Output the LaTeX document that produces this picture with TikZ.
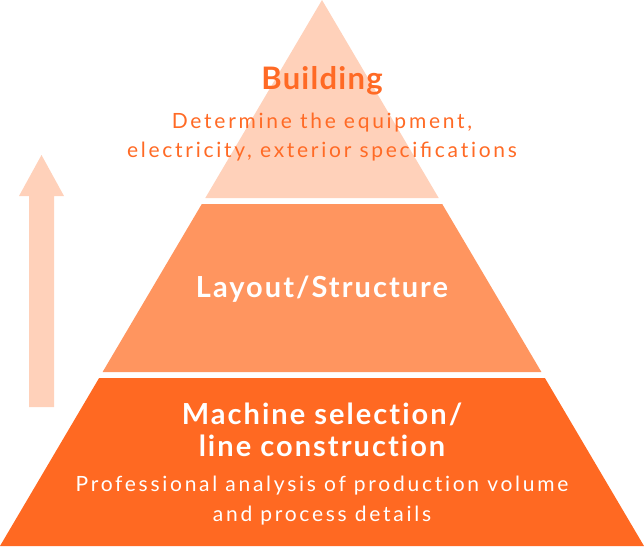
\documentclass[tikz,border=0pt]{standalone}
\usepackage{fontspec}
\setmainfont{Lato}
\newfontfamily\descfont{Lato}[LetterSpace=13,RawFeature=-liga]
\newfontfamily\titlefont{Lato}[LetterSpace=7,RawFeature=-liga]
\newfontfamily\headfont{Lato}[LetterSpace=4,RawFeature=-liga]
\definecolor{tierA}{HTML}{FFD1BA}
\definecolor{tierB}{HTML}{FF955F}
\definecolor{tierC}{HTML}{FF6922}
\definecolor{txtor}{HTML}{FF6A25}
\begin{document}
\begin{tikzpicture}[x=1pt,y=-1pt,
  title/.style={anchor=base,inner sep=0pt,font=\titlefont\bfseries\fontsize{29}{32}\selectfont},
  desc/.style={anchor=base,inner sep=0pt,font=\descfont\fontsize{21}{28}\selectfont}]
\useasboundingbox (0,0) rectangle (644,546);
% arrow
\fill[tierA] (29,407) -- (29,196) -- (19,196) -- (41.5,155) -- (64,196) -- (54,196) -- (54,407) -- cycle;
% tiers
\fill[tierA] (322,0) -- (438.7,198) -- (205.3,198) -- cycle;
\fill[tierB] (201.8,204) -- (442.2,204) -- (541.4,372) -- (102.6,372) -- cycle;
\fill[tierC] (99.1,378) -- (544.9,378) -- (644,546) -- (0,546) -- cycle;
% texts
\node[title,txtor,font=\headfont\bfseries\fontsize{31}{34}\selectfont] (b1) at (322,89.3) {Building};
\node[desc,txtor] (b2) at (322,128.3) {Determine the equipment,};
\node[desc,txtor] (b3) at (322,157) {electricity, exterior speciﬁcations};
\node[title,white] (l1) at (322,297.3) {Layout/Structure};
\node[title,white] (m1) at (322,424.3) {Machine selection/};
\node[title,white] (m2) at (322,456) {line construction};
\node[desc,white] (m3) at (322,491.7) {Professional analysis of production volume};
\node[desc,white] (m4) at (322,521.7) {and process details};
\end{tikzpicture}
\end{document}
